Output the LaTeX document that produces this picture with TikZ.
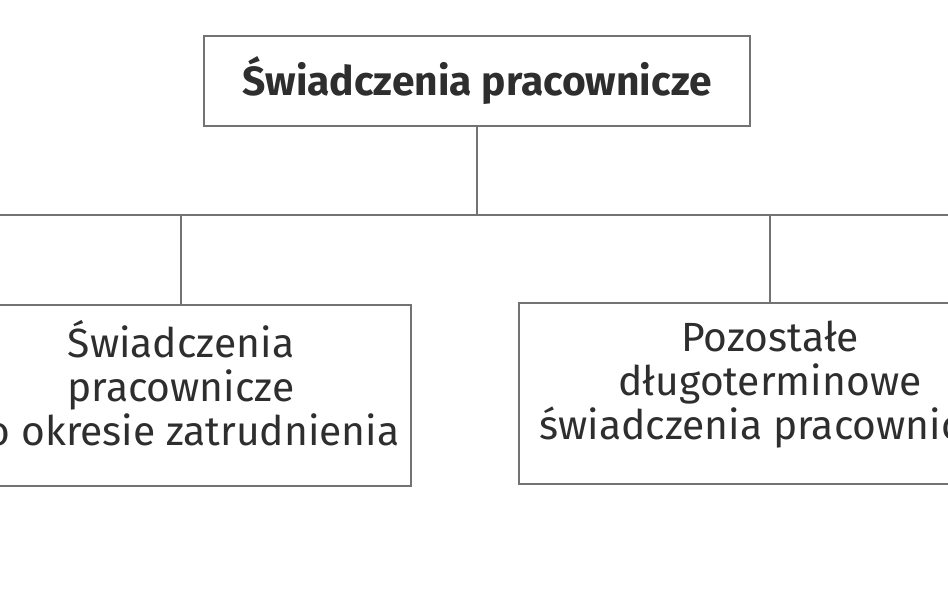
\documentclass[tikz,border=0pt]{standalone}
\usepackage{fontspec}
\setmainfont{Fira Sans}
\usepackage{tikz}
\definecolor{boxline}{HTML}{737373}
\definecolor{boxtext}{HTML}{2E2E2E}
\tikzset{
	benefit/.style={draw=boxline, line width=0.07cm, fill=white, text=boxtext, align=center, inner sep=0pt},
	link/.style={draw=boxline, line width=0.07cm}
}

\begin{document}
\begin{tikzpicture}
		%%%%% START %%%%%
		\useasboundingbox (0, 0) rectangle (23.7, -14.825);
		\clip (0, 0) rectangle (23.7, -14.825);
		
		\node[benefit, minimum width=13.65cm, minimum height=2.25cm, font=\fontsize{29}{31}\selectfont\bfseries] (root) at (11.925, -2.025) {Świadczenia pracownicze};
		
		\coordinate (busL) at (-0.5, -5.375);
		\coordinate (busR) at (24.2, -5.375);
		\draw[link] (busL) -- (busR);
		\draw[link] (root.south) -- (root.south |- busL);
		
		\node[benefit, minimum width=11.5cm, minimum height=4.525cm, text depth=0.65cm, font=\fontsize{29}{31.3}\selectfont] (post) at (4.525, -9.8875) {Świadczenia\\pracownicze\\po okresie zatrudnienia};
		\node[benefit, minimum width=12.55cm, minimum height=4.525cm, text depth=0.65cm, font=\fontsize{29}{31.3}\selectfont] (other) at (19.25, -9.8375) {Pozostałe\\długoterminowe\\świadczenia pracownicze};
		
		\draw[link] (post.north) -- (post.north |- busL);
		\draw[link] (other.north) -- (other.north |- busL);
		%%%%% END %%%%%
\end{tikzpicture}
\end{document}
